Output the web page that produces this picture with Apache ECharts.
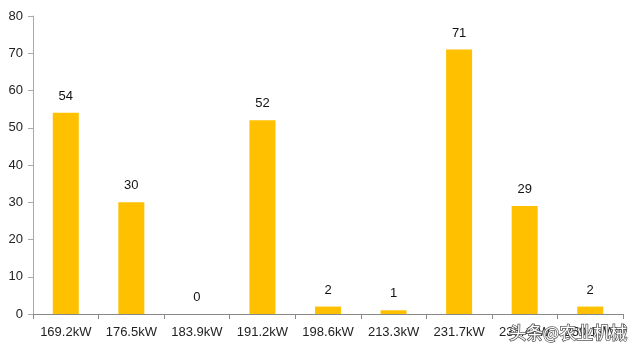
<!DOCTYPE html>
<html>
<head>
<meta charset="utf-8">
<script src="https://cdn.jsdelivr.net/npm/echarts@6/dist/echarts.min.js"></script>
<style>
html,body{margin:0;padding:0;background:#fff;}
#chart{width:640px;height:356px;}
</style>
</head>
<body>
<div id="chart"></div>
<script>
var categories = ['169.2kW','176.5kW','183.9kW','191.2kW','198.6kW','213.3kW','231.7kW','235.4kW','250.1kW'];
var values = [54, 30, 0, 52, 2, 1, 71, 29, 2];
var yTicks = [0, 10, 20, 30, 40, 50, 60, 70, 80];

var chart = echarts.init(document.getElementById('chart'), null, {renderer:'canvas'});
chart.setOption({
  animation: false,
  grid: {left: 33, right: 17, top: 16, bottom: 42, containLabel: false},
  xAxis: {
    type: 'category',
    data: categories,
    axisLine: {lineStyle: {color: '#888', width: 1}},
    axisTick: {show: true, inside: false, length: 5, lineStyle: {color: '#888'}},
    axisLabel: {color: '#222', fontSize: 13, fontFamily: 'Liberation Sans', margin: 12, interval: 0}
  },
  yAxis: {
    type: 'value',
    min: yTicks[0],
    max: yTicks[yTicks.length - 1],
    interval: 10,
    axisLine: {show: true, lineStyle: {color: '#aaa', width: 1}},
    axisTick: {show: true, length: 5, lineStyle: {color: '#aaa'}},
    splitLine: {show: false},
    axisLabel: {color: '#222', fontSize: 13, fontFamily: 'Liberation Sans', margin: 10}
  },
  series: [{
    type: 'bar',
    data: values,
    barWidth: 26,
    itemStyle: {color: '#FFC000'},
    label: {show: true, position: 'top', distance: 10, color: '#111', fontSize: 13, fontFamily: 'Liberation Sans'}
  }],
  graphic: [{
    type: 'text',
    right: 12,
    top: 323,
    z: 100,
    style: {
      text: '头条@农业机械',
      font: '17px "Noto Sans CJK SC"',
      fill: '#fff',
      stroke: '#555',
      lineWidth: 1.5
    }
  }]
});
</script>
</body>
</html>
